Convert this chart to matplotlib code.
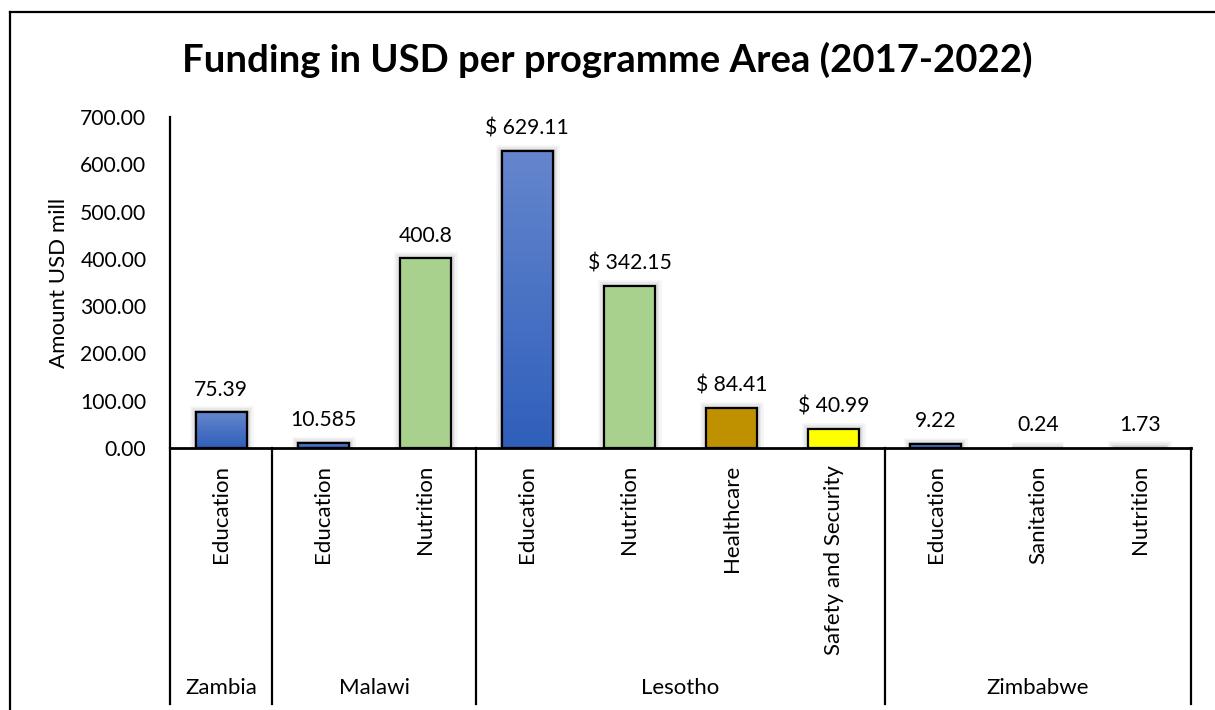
import numpy as np
import matplotlib
matplotlib.use("Agg")
import matplotlib.pyplot as plt
from matplotlib.lines import Line2D
from matplotlib import patheffects as pe
from matplotlib.colors import LinearSegmentedColormap

plt.rcParams["font.family"] = ["Lato", "DejaVu Sans"]

# ---- data ----
countries = ["Zambia", "Malawi", "Lesotho", "Zimbabwe"]
country_sizes = [1, 2, 4, 3]
programmes = ["Education", "Education", "Nutrition", "Education", "Nutrition",
              "Healthcare", "Safety and Security", "Education", "Sanitation", "Nutrition"]
amounts = [75.39, 10.585, 400.8, 629.11, 342.15, 84.41, 40.99, 9.22, 0.24, 1.73]
currency_label = [False, False, False, True, True, True, True, False, False, False]
y_ticks = [0, 100, 200, 300, 400, 500, 600, 700]

# ---- styles ----
fill = {"Education": None, "Nutrition": "#A9D18E", "Healthcare": "#BF9000",
        "Safety and Security": "#FFFF00", "Sanitation": "#FFFFFF"}
blue_grad = LinearSegmentedColormap.from_list("blue_grad", ["#2F5FBB", "#6586CD"])
TXT = 16      # word labels
NUM = 15.2    # numeric labels

W, H = 1215, 710
fig = plt.figure(figsize=(W / 100, H / 100), dpi=100)
ax_left, ax_right, ax_bottom, ax_top = 170, 1191, 448, 117
ax = fig.add_axes([ax_left / W, 1 - ax_bottom / H,
                   (ax_right - ax_left) / W, (ax_bottom - ax_top) / H])

x = np.arange(len(amounts))

glow = [pe.Stroke(linewidth=9, foreground="#000000", alpha=0.04),
        pe.Stroke(linewidth=6, foreground="#000000", alpha=0.05),
        pe.Stroke(linewidth=3.5, foreground="#000000", alpha=0.06),
        pe.Normal()]

faint = [i for i, v in enumerate(amounts) if v < 5 and i >= 8]
faces = []
edges = []
for i, p in enumerate(programmes):
    c = fill[p]
    faces.append(c if c is not None else "#4472C4")
    edges.append("#C8C8C8" if i in faint else "#000000")

bars = ax.bar(x, amounts, width=0.5, color=faces, edgecolor=edges,
              linewidth=1.6, zorder=2)
for b, p in zip(bars, programmes):
    b.set_path_effects(glow)
    if fill[p] is None:
        # vertical gradient fill inside the bar
        x0, y0 = b.get_x(), b.get_y()
        grad = np.linspace(0, 1, 256).reshape(-1, 1)
        im = ax.imshow(grad, cmap=blue_grad, aspect="auto", origin="lower",
                       extent=[x0, x0 + b.get_width(), y0, y0 + b.get_height()],
                       zorder=2.5)
        im.set_clip_path(b)
        ax.bar(b.get_x() + b.get_width() / 2, b.get_height(), width=b.get_width(),
               facecolor="none", edgecolor="#000000", linewidth=1.6, zorder=3)
ax.set_xlim(-0.5, len(amounts) - 0.5)
ax.set_ylim(0, 700)

labels = [(f"$ {v:.2f}" if cur else f"{v:g}") for v, cur in zip(amounts, currency_label)]
ax.bar_label(bars, labels=labels, padding=9, fontsize=NUM, color="#000000")

# ---- axes styling ----
for s in ["top", "right"]:
    ax.spines[s].set_visible(False)
ax.spines["left"].set_linewidth(1.6)
ax.spines["bottom"].set_linewidth(2)
ax.set_yticks(y_ticks)
ax.set_yticklabels([f"{t:.2f}" for t in y_ticks])
ax.tick_params(axis="y", length=0, pad=17, labelsize=NUM)
ax.set_xticks([])
ax.set_ylabel("Amount USD mill", fontsize=TXT)
ax.yaxis.set_label_coords((69 - ax_left) / (ax_right - ax_left), 0.5)

# multi-level category axis
trans = ax.get_xaxis_transform()
span = ax_bottom - ax_top
line_end = -(704 - ax_bottom) / span
for xi, p in zip(x, programmes):
    ax.text(xi, -(465 - ax_bottom) / span, p, rotation=90,
            ha="center", va="top", fontsize=TXT, transform=trans)

bounds = np.concatenate([[0], np.cumsum(country_sizes)]) - 0.5
for bx in bounds:
    ax.add_line(Line2D([bx, bx], [0, line_end], transform=trans, color="#000000",
                       linewidth=1.6, clip_on=False))
for name, lo, hi in zip(countries, bounds[:-1], bounds[1:]):
    ax.text((lo + hi) / 2, -(688 - ax_bottom) / span, name,
            ha="center", va="center", fontsize=TXT, transform=trans)

# title
fig.text(0.5, 1 - 72 / H, "Funding in USD per programme Area (2017-2022)",
         ha="center", va="baseline", fontsize=27.5, fontweight="bold")

# chart frame
fig.add_artist(Line2D([10 / W, 10 / W], [1 - 12 / H, 0], transform=fig.transFigure,
                      color="#000000", linewidth=1.6))
fig.add_artist(Line2D([10 / W, 1], [1 - 12 / H, 1 - 12 / H], transform=fig.transFigure,
                      color="#000000", linewidth=1.6))

fig.savefig("out.png", dpi=100, facecolor="white")
